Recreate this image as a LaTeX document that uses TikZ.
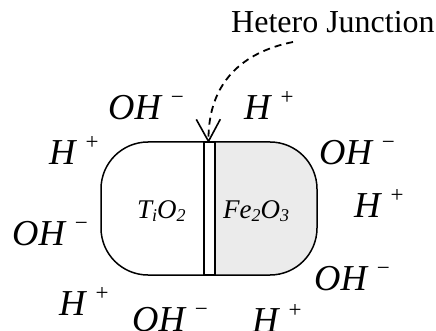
\documentclass[tikz,border=0pt]{standalone}
\usepackage{fontspec}
\setmainfont{Liberation Serif}
\usetikzlibrary{arrows.meta}
\newcommand\ionlab[2]{{\itshape #1}\hspace{10pt}\raisebox{15pt}{\fontsize{23}{23}\selectfont #2}}
\newcommand\chemsub[1]{\raisebox{-4pt}{\fontsize{18}{18}\selectfont\itshape #1}}
\begin{document}
\begin{tikzpicture}[x=1pt,y=-1pt,
  ion/.style={anchor=base west,inner sep=0pt,font=\fontsize{36.5}{38}\selectfont},
  chem/.style={anchor=base west,inner sep=0pt,font=\fontsize{27}{30}\selectfont\itshape},
  part/.style={line width=1.5pt,rounded corners=47pt},
  strip/.style={line width=1.6pt,fill=white},
  junc/.style={line width=1.8pt,dash pattern=on 7pt off 5pt,-{Straight Barb[length=22pt,width=24pt,line width=1.6pt]}}]
\useasboundingbox (0,0) rectangle (436,331);
\clip (0,0) rectangle (436,331);
% particle
\draw[part] (205,142) -- (101,142) -- (101,275) -- (205,275);
\draw[part,fill=black!8] (214,142) -- (317,142) -- (317,275) -- (214,275);
\draw[strip] (204,142) rectangle (215,275);
\coordinate (jtop) at (208.5,143);
% labels
\node[chem] (tio) at (137,218) {T\chemsub{i}O\chemsub{2}};
\node[chem] (feo) at (223,218) {Fe\chemsub{2}O\chemsub{3}};
\node[anchor=base west,inner sep=0pt,font=\fontsize{32}{34}\selectfont] (hj) at (231,33) {Hetero Junction};
\coordinate (hjs) at (293,42);
\draw[junc] (hjs) .. controls (243,52) and (208,82) .. (jtop);
% ions
\node[ion] (i1) at (108,120) {\ionlab{OH}{−}};
\node[ion] (i2) at (244,120) {\ionlab{H}{+}};
\node[ion] (i3) at (49,165) {\ionlab{H}{+}};
\node[ion] (i4) at (319,165) {\ionlab{OH}{−}};
\node[ion] (i5) at (354,217) {\ionlab{H}{+}};
\node[ion] (i6) at (12,245) {\ionlab{OH}{−}};
\node[ion] (i7) at (314,290) {\ionlab{OH}{−}};
\node[ion] (i8) at (59,315) {\ionlab{H}{+}};
\node[ion] (i9) at (132,331) {\ionlab{OH}{−}};
\node[ion] (i10) at (252,332) {\ionlab{H}{+}};
\end{tikzpicture}
\end{document}
